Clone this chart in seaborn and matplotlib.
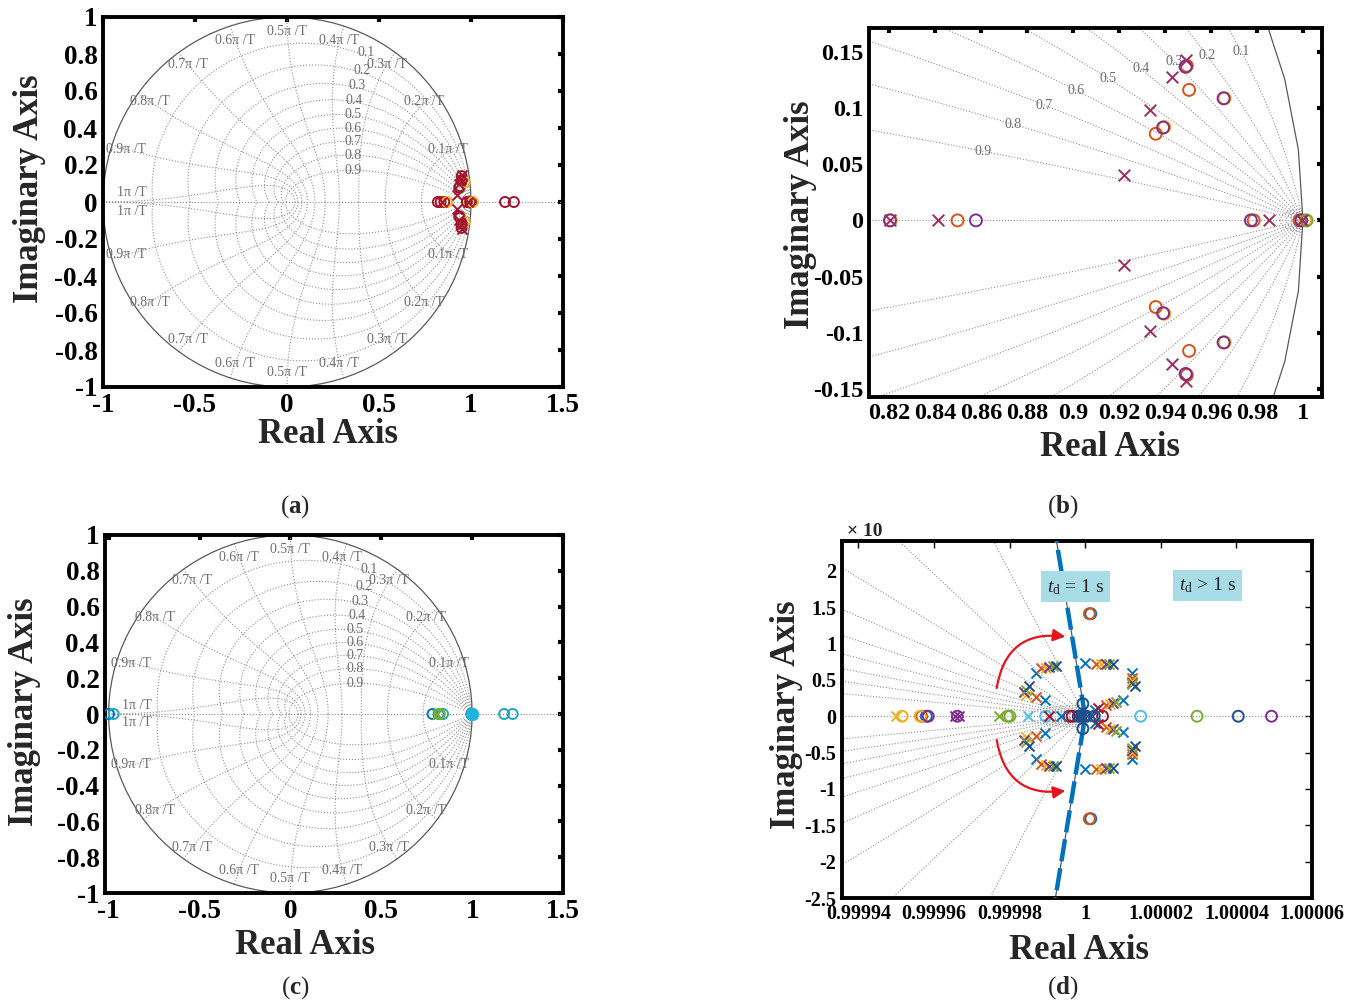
import numpy as np
import matplotlib
matplotlib.use("Agg")
import matplotlib.pyplot as plt
import seaborn as sns
from matplotlib.patches import FancyArrowPatch
from matplotlib.ticker import FuncFormatter

# ---------------- values ----------------
# complex poles / zeros are given by their upper half, the conjugates are mirrored

# (a) full z-plane
a_zero_red_re = [0.949, 0.950, 0.936, 0.940, 0.820, 0.835, 0.855, 0.978, 0.995, 1.005, 1.185, 1.233]
a_zero_red_im = [0.140, 0.118, 0.077, 0.085, 0, 0, 0, 0, 0, 0, 0, 0]
a_zero_org_re = [0.965, 0.870, 1.010]
a_zero_org_im = [0.106, 0, 0]
a_pole_re = [0.949, 0.943, 0.933, 0.922, 0.841, 0.985]
a_pole_im = [0.145, 0.127, 0.098, 0.040, 0, 0]

# (b) zoom of (a)
b_zero_yel_re = [0.9660, 0.9398, 1.0010, 0.8208]
b_zero_yel_im = [0.1085, 0.0830, 0, 0]
b_zero_org_re = [0.9495, 0.9505, 0.9360, 0.8498, 0.9786, 0.9985]
b_zero_org_im = [0.1375, 0.1160, 0.0770, 0, 0, 0]
b_zero_pur_re = [0.9490, 0.9655, 0.9392, 0.8578, 0.9774, 0.8204, 0.9993]
b_zero_pur_im = [0.1365, 0.1085, 0.0825, 0, 0, 0, 0]
b_zero_grn_re = [1.0016]
b_zero_grn_im = [0]
b_pole_re = [0.9492, 0.9430, 0.9335, 0.9224, 0.8413, 0.9853, 0.8204, 0.9995]
b_pole_im = [0.1429, 0.1274, 0.0980, 0.0399, 0, 0, 0, 0]

# (c) full z-plane, second case (all on the real axis)
c_zero_blue_re = [-0.998, 0.782, 0.996]
c_zero_cyan_re = [-0.972, 0.815, 0.840, 1.176, 1.223]
c_zero_grn_re = [0.822]
c_pole_grn_re = [0.805]
c_fill_cyan_re = [0.998]

# (d) real part: offset from 1 in units of 1e-5, imaginary part in units of 1e-4
d_colors = ["#0072BD", "#D95319", "#EDB120", "#7E2F8E", "#77AC30", "#4DBEEE", "#A2142F", "#1F4E8C"]
d_pole_re = [
    [-1.30, -1.06, 0.00, 1.25, 0.99, -0.64, 0.26],
    [-1.17, -1.30, 0.28, 1.23, 0.55],
    [-1.04, -1.56, 0.41, 1.24, 0.65, -5.00],
    [-0.95, -1.61, 0.55, 1.25, 0.73, -3.43, -3.33],
    [-0.86, -1.56, 0.63, 1.24, 0.81, -2.27],
    [-1.52],
    [-0.95, 0.33],
    [-0.77, -1.48, 0.74, 1.32, -0.14, -0.06, 0.19],
]
d_pole_im = [
    [0.59, 0.23, 0.73, 0.59, 0.22, 0, 0.09],
    [0.66, 0.27, 0.72, 0.52, 0.15],
    [0.67, 0.29, 0.72, 0.49, 0.17, 0],
    [0.68, 0.33, 0.715, 0.46, 0.18, 0, 0],
    [0.69, 0.36, 0.715, 0.44, 0.20, 0],
    [0],
    [0, 0.11],
    [0.69, 0.41, 0.715, 0.41, 0, 0, 0],
]
d_zero_re = [
    [-4.20, 0.15],
    [-4.32, 0.11],
    [-4.84, -4.36],
    [-4.15, -3.38, 4.93],
    [-2.05, -1.99, 2.96],
    [-1.04, 1.47],
    [-0.42, -0.34, 0.46],
    [-0.06, 0.24, 4.05, -0.18, -0.10, -0.02, 0.04],
]
d_zero_im = [
    [0, 1.41],
    [0, 1.41],
    [0, 0],
    [0, 0, 0],
    [0, 0, 0],
    [0, 0],
    [0, 0, 0],
    [0.17, 0, 0, 0, 0, 0, 0],
]

# ---------------- style ----------------
sns.set_theme(style="white")
plt.rcParams["font.family"] = ["Liberation Serif", "DejaVu Serif"]
plt.rcParams["font.weight"] = "bold"
plt.rcParams["mathtext.fontset"] = "custom"
plt.rcParams["mathtext.rm"] = "Liberation Serif:normal"
plt.rcParams["mathtext.it"] = "Liberation Serif:italic:normal"
plt.rcParams["mathtext.bf"] = "Liberation Serif:bold"
plt.rcParams["axes.unicode_minus"] = False

ZETAS = np.round(np.arange(0.1, 1.0, 0.1), 1)
GRID = dict(ls=":", color="#8f8f8f", lw=0.8, zorder=1)
LABEL = dict(color="#6e6e6e", fontsize=10, fontweight="normal", zorder=2)
GFMT = FuncFormatter(lambda v, p: "0" if abs(v) < 1e-12 else f"{v:g}")


def conj(re, im):
    re, im = np.asarray(re, float), np.asarray(im, float)
    up = im > 0
    return np.concatenate([re, re[up]]), np.concatenate([im, -im[up]])


def zeros(ax, re, im, color, s):
    x, y = conj(re, im)
    sns.scatterplot(x=x, y=y, ax=ax, marker="o", s=s, color=color,
                    facecolor="none", edgecolor=color, linewidth=1.4, zorder=5, legend=False)


def poles(ax, re, im, color, s):
    x, y = conj(re, im)
    sns.scatterplot(x=x, y=y, ax=ax, marker="x", s=s, color=color,
                    linewidth=1.4, zorder=6, legend=False)


def zgrid(ax, extra_wn=()):
    th = np.linspace(0, np.pi, 4000)
    for z in ZETAS:
        r = np.exp(-z / np.sqrt(1 - z * z) * th)
        ax.plot(r * np.cos(th), r * np.sin(th), **GRID)
        ax.plot(r * np.cos(th), -r * np.sin(th), **GRID)
    zt = np.linspace(0, 1, 300)
    for w in list(np.arange(1, 11) * np.pi / 10) + list(extra_wn):
        m = np.exp(-zt * w)
        a = w * np.sqrt(1 - zt ** 2)
        ax.plot(m * np.cos(a), m * np.sin(a), **GRID)
        ax.plot(m * np.cos(a), -m * np.sin(a), **GRID)
    t = np.linspace(0, 2 * np.pi, 101)
    ax.plot(np.cos(t), np.sin(t), color="#5a5a5a", lw=0.9, zorder=1)
    ax.axhline(0, **GRID)


def zgrid_labels_full(ax):
    th = np.linspace(0, np.pi / 2, 3000)
    for z, lx in zip(ZETAS, [0.385, 0.36, 0.335, 0.32, 0.31, 0.31, 0.31, 0.31, 0.31]):
        r = np.exp(-z / np.sqrt(1 - z * z) * th)
        x, y = r * np.cos(th), r * np.sin(th)
        i = np.argmin(np.abs(x - lx))
        ax.text(x[i], y[i], f"{z:g}", ha="left", va="center", **LABEL)
    for k in range(1, 10):
        ang = k * np.pi / 10
        for sg in (1, -1):
            ax.text(0.92 * np.cos(ang), sg * 0.92 * np.sin(ang), f"{k / 10:g}\u03c0 /T",
                    ha="center", va="center", **LABEL)
    for sg in (1, -1):
        ax.text(-0.845, sg * 0.05, "1\u03c0 /T", ha="center", va="center", **LABEL)


def style(ax, fs, tlen=3.5, twid=3.0):
    for sp in ax.spines.values():
        sp.set_linewidth(2.8)
        sp.set_color("black")
    ax.tick_params(direction="in", length=tlen, width=twid, top=True, right=True,
                   labelsize=fs, pad=4, color="black", labelcolor="black")


fig = plt.figure(figsize=(13.62, 10.05), dpi=100)
W, H = 1362, 1005


def box(l, t, r, b):
    return fig.add_axes([l / W, 1 - b / H, (r - l) / W, (b - t) / H])


# ---------------- (a) ----------------
ax = box(103, 17, 563, 387)
zgrid(ax)
zgrid_labels_full(ax)
zeros(ax, a_zero_red_re, a_zero_red_im, "#A2142F", 52)
zeros(ax, a_zero_org_re, a_zero_org_im, "#EDB120", 52)
poles(ax, a_pole_re, a_pole_im, "#A2142F", 52)
ax.set_xlim(-1, 1.5)
ax.set_ylim(-1, 1)
ax.set_xticks(np.arange(-1, 1.51, 0.5))
ax.set_yticks(np.round(np.arange(-1, 1.01, 0.2), 1))
ax.xaxis.set_major_formatter(GFMT)
ax.yaxis.set_major_formatter(GFMT)
style(ax, 19.5)

# ---------------- (b) ----------------
bx = box(869, 28, 1322, 397)
zgrid(bx, extra_wn=[0.0025, 0.005, 0.0075, 0.01])
th = np.linspace(0, 0.5, 6000)
for z in ZETAS:
    r = np.exp(-z / np.sqrt(1 - z * z) * th)
    x, y = r * np.cos(th), r * np.sin(th)
    i = np.argmax((np.hypot(x - 1, y) >= 0.152) | (y >= 0.153))
    bx.text(x[i], y[i], f"{z:g}", ha="center", va="center", **LABEL)
zeros(bx, b_zero_yel_re, b_zero_yel_im, "#EDB120", 74)
zeros(bx, b_zero_org_re, b_zero_org_im, "#D95319", 74)
zeros(bx, b_zero_pur_re, b_zero_pur_im, "#7E2F8E", 74)
zeros(bx, b_zero_grn_re, b_zero_grn_im, "#77AC30", 74)
poles(bx, b_pole_re, b_pole_im, "#9B2D5F", 70)
bx.set_xlim(0.8113, 1.0083)
bx.set_ylim(-0.157, 0.171)
bx.set_xticks(np.round(np.arange(0.82, 1.001, 0.02), 2))
bx.set_yticks(np.round(np.arange(-0.15, 0.151, 0.05), 2))
bx.xaxis.set_major_formatter(GFMT)
bx.yaxis.set_major_formatter(GFMT)
style(bx, 17.5)

# ---------------- (c) ----------------
cx = box(105, 535, 563, 893)
zgrid(cx)
zgrid_labels_full(cx)
zeros(cx, c_zero_blue_re, [0] * len(c_zero_blue_re), "#0072BD", 52)
zeros(cx, c_zero_cyan_re, [0] * len(c_zero_cyan_re), "#20A6C8", 52)
zeros(cx, c_zero_grn_re, [0], "#77AC30", 52)
poles(cx, c_pole_grn_re, [0], "#77AC30", 52)
sns.scatterplot(x=c_fill_cyan_re, y=[0], ax=cx, marker="o", s=80, color="#1CB5E0",
                edgecolor="#1CB5E0", zorder=6, legend=False)
cx.set_xlim(-1.02, 1.5)
cx.set_ylim(-1, 1)
cx.set_xticks(np.arange(-1, 1.51, 0.5))
cx.set_yticks(np.round(np.arange(-1, 1.01, 0.2), 1))
cx.xaxis.set_major_formatter(GFMT)
cx.yaxis.set_major_formatter(GFMT)
style(cx, 19.5)

# ---------------- (d) ----------------
dx = box(842, 541, 1312, 898)
th = np.linspace(0, 4e-4, 400)
for z in ZETAS:
    a = z / np.sqrt(1 - z * z)
    ox = (np.expm1(-a * th) * np.cos(th) - 2 * np.sin(th / 2) ** 2) / 1e-5
    oy = np.exp(-a * th) * np.sin(th) / 1e-4
    dx.plot(ox, oy, **GRID)
    dx.plot(ox, -oy, **GRID)
zt = np.linspace(0, 1, 100)
for w in np.arange(0.3, 1.6, 0.3) * 1e-5:
    a = w * np.sqrt(1 - zt ** 2)
    ox = (np.expm1(-zt * w) * np.cos(a) - 2 * np.sin(a / 2) ** 2) / 1e-5
    oy = np.exp(-zt * w) * np.sin(a) / 1e-4
    dx.plot(ox, oy, **GRID)
    dx.plot(ox, -oy, **GRID)
dx.axhline(0, **GRID)
# unit circle (coarse polyline as drawn by zgrid) and the t_d = 1 s boundary on it
t = 2 * np.pi / 100 * np.array([-2, -1, 0, 1, 2])
ux = -2 * np.sin(t / 2) ** 2 / 1e-5
uy = np.sin(t) / 1e-4
dx.plot(ux, uy, color="#5a5a5a", lw=0.9, zorder=2)
dx.plot(ux, uy, color="#0072BD", lw=3.2, dashes=(5, 1.6), zorder=3)

for c, pr, pi_, zr, zi in zip(d_colors, d_pole_re, d_pole_im, d_zero_re, d_zero_im):
    zeros(dx, zr, zi, c, 62)
    poles(dx, pr, pi_, c, 52)

for (x0, y0), (x1, y1), rad in [((-2.35, 0.35), (-0.45, 1.09), -0.5),
                                ((-2.35, -0.29), (-0.45, -1.02), 0.5)]:
    dx.add_patch(FancyArrowPatch((x0, y0), (x1, y1), connectionstyle=f"arc3,rad={rad}",
                                 arrowstyle="-|>", mutation_scale=18, color="#E3141B",
                                 lw=1.6, zorder=7))
tb = dict(boxstyle="square,pad=0.3", fc="#A8DCE6", ec="none")
dx.text(-0.25, 1.78, r"$t_\mathrm{d}$ = 1 s", ha="center", va="center", fontsize=14,
        fontweight="normal", bbox=tb, zorder=8)
dx.text(3.23, 1.80, r"$t_\mathrm{d}$ > 1 s", ha="center", va="center", fontsize=14,
        fontweight="normal", bbox=tb, zorder=8)
dx.set_xlim(-6.43, 6.0)
dx.set_ylim(-2.5, 2.41)
dx.set_xticks(np.arange(-6, 6.1, 2))
dx.set_yticks(np.arange(-2.5, 2.1, 0.5))
dx.xaxis.set_major_formatter(FuncFormatter(lambda v, p: f"{1 + v * 1e-5:.5f}".rstrip("0").rstrip(".")))
dx.yaxis.set_major_formatter(GFMT)
style(dx, 14.5, tlen=5, twid=1.0)
fig.text(847 / W, 1 - 531 / H, "\u00d7 10", ha="left", va="center", fontsize=14)

# ---------------- labels ----------------
for axx, xl, yl in [(ax, (0.489, -0.128), (-0.159, 0.535)),
                    (bx, (0.532, -0.138), (-0.152, 0.493)),
                    (cx, (0.437, -0.148), (-0.175, 0.506)),
                    (dx, (0.505, -0.146), (-0.119, 0.513))]:
    axx.set_xlabel("Real Axis", fontsize=25, fontweight="bold")
    axx.set_ylabel("Imaginary Axis", fontsize=25, fontweight="bold")
    axx.xaxis.label.set_va("center")
    axx.yaxis.label.set_va("center")
    axx.xaxis.set_label_coords(*xl)
    axx.yaxis.set_label_coords(*yl)

for txt, px, py in [("a", 295, 507), ("b", 1063, 507), ("c", 295, 988), ("d", 1063, 988)]:
    fig.text(px / W, 1 - py / H, rf"($\mathbf{{{txt}}}$)", ha="center", va="center",
             fontsize=18, fontweight="normal")

fig.savefig("out.png", dpi=100)
